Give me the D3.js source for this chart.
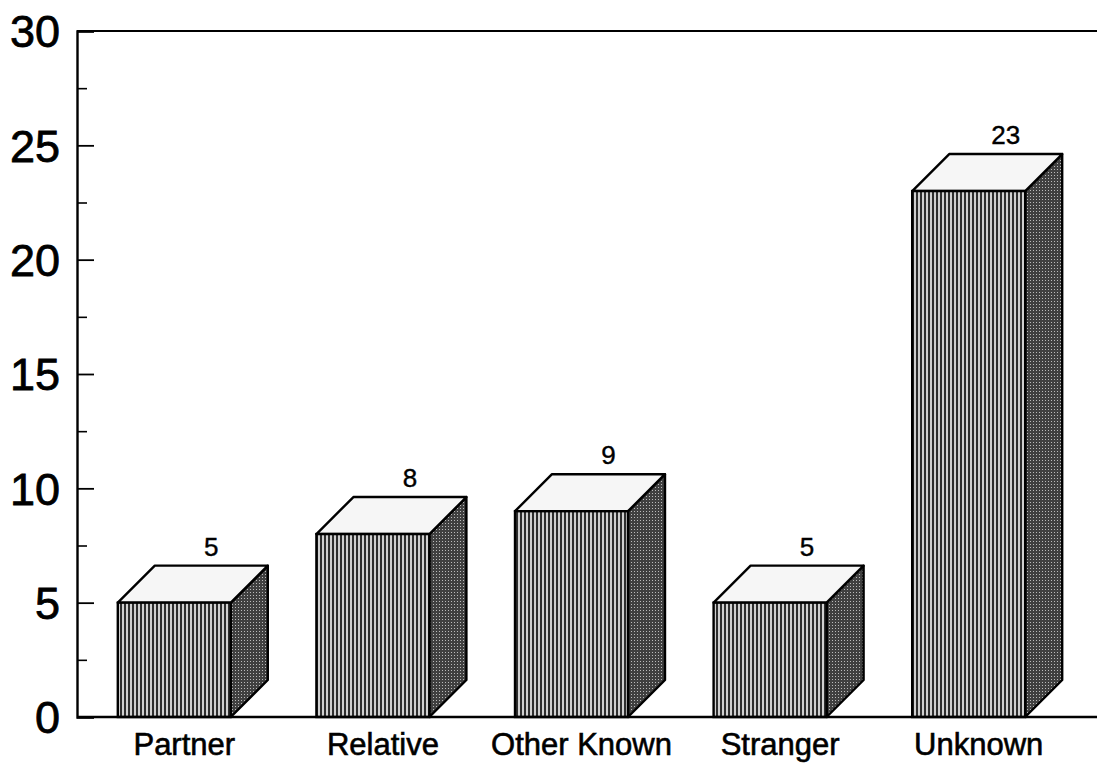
<!DOCTYPE html>
<html><head><meta charset="utf-8">
<script src="https://cdn.jsdelivr.net/npm/d3@7"></script>
<style>body{margin:0;background:#fff}svg{display:block}</style>
</head><body>
<svg id="c" width="1097" height="775"></svg>
<script>
const categories = ["Partner", "Relative", "Other Known", "Stranger", "Unknown"];
const values = [5, 8, 9, 5, 23];
const yTicks = [0, 5, 10, 15, 20, 25, 30];
const yMinorTicks = [2.5, 7.5, 12.5, 17.5, 22.5, 27.5];

(function(){
const svg = d3.select("#c");
const mLeft = 77, mTop = 31, mBottom = 717, mRight = 1097;
const depth = 37, barW = 113;

const y = d3.scaleLinear().domain([0, 30]).range([mBottom, mTop]);
const x = d3.scaleBand().domain(categories).range([75, 1068]).padding(0);

const defs = svg.append("defs");
const pf = defs.append("pattern").attr("id", "front").attr("patternUnits", "userSpaceOnUse")
  .attr("width", 4).attr("height", 4);
pf.append("rect").attr("width", 4).attr("height", 4).attr("fill", "#d0d0d0");
pf.append("rect").attr("width", 2).attr("height", 4).attr("fill", "#2e2e2e");
const ps = defs.append("pattern").attr("id", "side").attr("patternUnits", "userSpaceOnUse")
  .attr("width", 3).attr("height", 3);
ps.append("rect").attr("width", 3).attr("height", 3).attr("fill", "#404040");
ps.append("rect").attr("x", 1).attr("y", 1).attr("width", 1).attr("height", 1).attr("fill", "#bbbbbb");

svg.append("line").attr("x1", mLeft).attr("x2", mRight).attr("y1", mTop).attr("y2", mTop)
  .attr("stroke", "#000").attr("stroke-width", 2.2);

const yAxis = d3.axisRight(y).tickValues(yTicks).tickSize(17).tickFormat("");
const ga = svg.append("g").attr("transform", `translate(${mLeft},0)`).call(yAxis);
ga.select(".domain").attr("stroke", "#000").attr("stroke-width", 2.4);
ga.selectAll(".tick line").attr("stroke", "#000").attr("stroke-width", 1.8);
const yMinor = d3.axisRight(y).tickValues(yMinorTicks).tickSize(10).tickFormat("");
const gm = svg.append("g").attr("transform", `translate(${mLeft},0)`).call(yMinor);
gm.select(".domain").remove();
gm.selectAll(".tick line").attr("stroke", "#000").attr("stroke-width", 1.6);

svg.append("g").selectAll("text").data(yTicks).join("text")
  .attr("x", 60).attr("y", d => y(d)).attr("dy", "0.36em")
  .attr("text-anchor", "end").attr("font-family", "Liberation Sans, Arial, sans-serif")
  .attr("font-size", 45).attr("fill", "#000").attr("stroke", "#000").attr("stroke-width", 0.8)
  .text(d => d);

const bars = svg.append("g").selectAll("g").data(categories.map((c, i) => ({c, v: values[i]}))).join("g");
bars.each(function(d) {
  const g = d3.select(this);
  const cx = x(d.c) + x.bandwidth() / 2;
  const x0 = cx - barW / 2, x1 = cx + barW / 2;
  const yt = y(d.v), yb = y(0);
  g.append("path").attr("d", `M${x1},${yt}L${x1+depth},${yt-depth}L${x1+depth},${yb-depth}L${x1},${yb}Z`)
    .attr("fill", "url(#side)").attr("stroke", "#000").attr("stroke-width", 2.4).attr("stroke-linejoin", "round");
  g.append("path").attr("d", `M${x0},${yt}L${x0+depth},${yt-depth}L${x1+depth},${yt-depth}L${x1},${yt}Z`)
    .attr("fill", "#f6f6f6").attr("stroke", "#000").attr("stroke-width", 2.4).attr("stroke-linejoin", "round");
  g.append("rect").attr("x", x0).attr("y", yt).attr("width", barW).attr("height", yb - yt)
    .attr("fill", "url(#front)").attr("stroke", "#000").attr("stroke-width", 2.4);
  g.append("text").attr("x", cx + depth).attr("y", yt - depth - 10)
    .attr("text-anchor", "middle").attr("font-family", "Liberation Sans, Arial, sans-serif")
    .attr("font-size", 26).attr("fill", "#000").attr("stroke", "#000").attr("stroke-width", 0.4)
    .text(d.v);
  g.append("text").attr("x", cx + 10).attr("y", 755)
    .attr("text-anchor", "middle").attr("font-family", "Liberation Sans, Arial, sans-serif")
    .attr("font-size", 31).attr("fill", "#000").attr("stroke", "#000").attr("stroke-width", 0.6)
    .text(d.c);
});

svg.append("line").attr("x1", mLeft).attr("x2", mRight).attr("y1", mBottom).attr("y2", mBottom)
  .attr("stroke", "#000").attr("stroke-width", 2.4);
})();
</script>
</body></html>
